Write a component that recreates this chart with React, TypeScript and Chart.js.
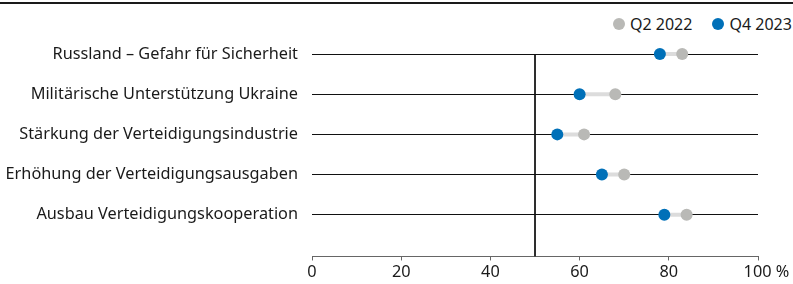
import React, { useEffect, useRef } from "react";
import { Chart, registerables } from "chart.js";

Chart.register(...registerables);

const categories = [
  "Russland – Gefahr für Sicherheit",
  "Militärische Unterstützung Ukraine",
  "Stärkung der Verteidigungsindustrie",
  "Erhöhung der Verteidigungsausgaben",
  "Ausbau Verteidigungskooperation",
];
const q2_2022 = [83, 68, 61, 70, 84];
const q4_2023 = [78, 60, 55, 65, 79];
const xTicks = [0, 20, 40, 60, 80, 100];
const referenceValue = 50;

const GRAY = "#b9b9b6";
const BLUE = "#0070b8";
const CONNECT = "#dcdcdc";
const TEXT = "#1a1a1a";
const FONT = "'Noto Sans', sans-serif";

export default function App() {
  const ref = useRef<HTMLCanvasElement>(null);

  useEffect(() => {
    document.body.style.margin = "0";
    const ctx = ref.current!;
    const connectors = categories.map((_, i) => ({
      type: "line" as const,
      data: [
        { x: q4_2023[i], y: i },
        { x: q2_2022[i], y: i },
      ],
      borderColor: CONNECT,
      borderWidth: 4,
      pointRadius: 0,
      order: 3,
    }));
    const chart = new Chart(ctx, {
      type: "scatter",
      data: {
        datasets: [
          {
            type: "line" as const,
            data: [
              { x: referenceValue, y: 0 },
              { x: referenceValue, y: 5.04 },
            ],
            borderColor: "#111",
            borderWidth: 1,
            pointRadius: 0,
            order: 4,
          },
          ...connectors,
          {
            label: "Q2 2022",
            data: q2_2022.map((v, i) => ({ x: v, y: i })),
            backgroundColor: GRAY,
            borderColor: GRAY,
            pointRadius: 6,
            borderWidth: 0,
            order: 2,
          },
          {
            label: "Q4 2023",
            data: q4_2023.map((v, i) => ({ x: v, y: i })),
            backgroundColor: BLUE,
            borderColor: BLUE,
            pointRadius: 6,
            borderWidth: 0,
            order: 1,
          },
        ] as any,
      },
      options: {
        animation: false,
        responsive: false,
        maintainAspectRatio: false,
        layout: { padding: { top: 30, right: 35, bottom: 0, left: 0 } },
        plugins: { legend: { display: false }, tooltip: { enabled: false } },
        scales: {
          x: {
            type: "linear",
            min: 0,
            max: 100,
            afterBuildTicks: (s: any) => {
              s.ticks = xTicks.map((v) => ({ value: v }));
            },
            grid: { drawOnChartArea: false, drawTicks: true, tickLength: 4, color: "#666" },
            border: { display: true, color: "#666", width: 1 },
            ticks: {
              color: TEXT,
              font: { family: FONT, size: 16.3 },
              padding: 2,
              maxRotation: 0,
              callback: (v: any) => (v === 100 ? "    100 %" : String(v)),
            },
          },
          y: {
            type: "linear",
            min: -0.5,
            max: 5.04,
            reverse: true,
            afterBuildTicks: (s: any) => {
              s.ticks = categories.map((_, i) => ({ value: i }));
            },
            afterFit: (s: any) => {
              s.width = 312;
            },
            grid: { drawTicks: false, color: "#111", lineWidth: 1 },
            border: { display: false },
            ticks: {
              color: TEXT,
              padding: 14,
              font: { family: FONT, size: 16.3 },
              callback: (v: any) => categories[v] ?? "",
            },
          },
        },
      },
    });
    return () => chart.destroy();
  }, []);

  const dot = (c: string) => ({
    display: "inline-block",
    width: 12,
    height: 12,
    borderRadius: "50%",
    background: c,
    marginRight: 5,
    verticalAlign: "middle",
  });

  return (
    <div style={{ position: "relative", width: 793, height: 284, fontFamily: FONT, color: TEXT }}>
      <div style={{ position: "absolute", top: 2, left: 0, width: 793, height: 2, background: "#1a1a1a" }} />
      <div
        style={{
          position: "absolute",
          top: 11,
          left: 613,
          fontSize: 16,
          lineHeight: "22px",
          whiteSpace: "nowrap",
        }}
      >
        <span style={dot(GRAY)} />
        <span style={{ verticalAlign: "middle", marginRight: 20 }}>Q2 2022</span>
        <span style={dot(BLUE)} />
        <span style={{ verticalAlign: "middle" }}>Q4 2023</span>
      </div>
      <canvas ref={ref} width={793} height={280} style={{ position: "absolute", top: 4, left: 0 }} />
    </div>
  );
}
